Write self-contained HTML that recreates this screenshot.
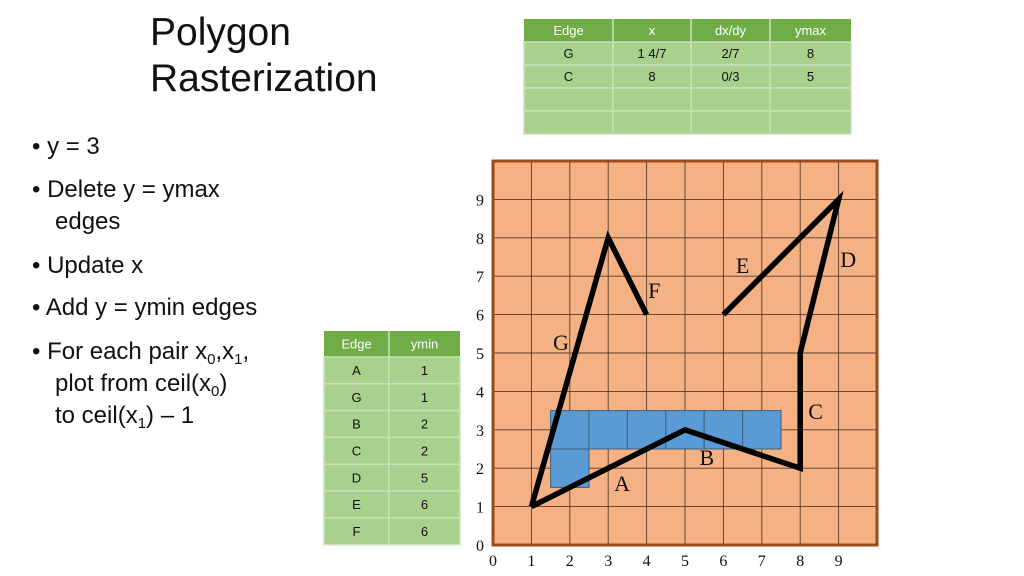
<!DOCTYPE html>
<html><head><meta charset="utf-8"><style>
html,body{margin:0;padding:0;background:#fff}
svg{display:block}
.t{font-family:"Liberation Sans",sans-serif;fill:#111}
.s{font-family:"Liberation Serif",serif;fill:#111}
</style></head><body>
<svg id="root" width="1024" height="576" viewBox="0 0 1024 576">
<g>
<text class="t" x="150" y="45" font-size="39">Polygon</text>
<text class="t" x="150" y="91" font-size="39">Rasterization</text>
</g>
<g font-size="24">
<text class="t" x="32" y="154" font-size="24">• y = 3</text>
<text class="t" x="32" y="197" font-size="24">• Delete y = ymax</text>
<text class="t" x="55" y="229" font-size="24">edges</text>
<text class="t" x="32" y="273" font-size="24">• Update x</text>
<text class="t" x="32" y="315" font-size="24">• Add y = ymin edges</text>
<text class="t" x="32" y="359" font-size="24">• For each pair x<tspan font-size="15" dy="5">0</tspan><tspan dy="-5">,x</tspan><tspan font-size="15" dy="5">1</tspan><tspan dy="-5">,</tspan></text>
<text class="t" x="55" y="391" font-size="24">plot from ceil(x<tspan font-size="15" dy="5">0</tspan><tspan dy="-5">)</tspan></text>
<text class="t" x="55" y="423" font-size="24">to ceil(x<tspan font-size="15" dy="5">1</tspan><tspan dy="-5">) – 1</tspan></text>
</g>
<g id="aet"></g>
<g id="et"></g>
<g id="grid"></g>
</svg>
<script>
const NS='http://www.w3.org/2000/svg';
function mk(tag,attrs,parent,txt){const e=document.createElementNS(NS,tag);for(const k in attrs)e.setAttribute(k,attrs[k]);if(txt!==undefined)e.textContent=txt;parent.appendChild(e);return e;}

// tables
const aetHeader=['Edge','x','dx/dy','ymax'];
const aetRows=[['G','1 4/7','2/7','8'],['C','8','0/3','5'],['','','',''],['','','','']];
const etHeader=['Edge','ymin'];
const etRows=[['A','1'],['G','1'],['B','2'],['C','2'],['D','5'],['E','6'],['F','6']];

function table(g,x0,y0,cols,hh,rh,header,rows,fs){
  const w=cols[cols.length-1]-cols[0];
  const hr=mk('rect',{x:x0,y:y0,width:w,height:hh,fill:'#70ad47'},g);
  
  
  header.forEach((h,i)=>{const t=mk('text',{class:'t',x:(cols[i]+cols[i+1])/2,y:y0+hh/2+fs*0.36,'font-size':fs,'text-anchor':'middle',fill:'#fff',style:'fill:#fff'},g,h);
    });
  rows.forEach((r,j)=>{const y=y0+hh+j*rh;
    const rr=mk('rect',{x:x0,y:y,width:w,height:rh,fill:'#a9d18e',stroke:'#c9e2b8','stroke-width':1.5},g);
    
    r.forEach((c,i)=>{if(c==='')return;const t=mk('text',{class:'t',x:(cols[i]+cols[i+1])/2,y:y+rh/2+fs*0.36,'font-size':fs,'text-anchor':'middle'},g,c);
      });});
  for(let i=1;i<cols.length-1;i++)mk('line',{x1:cols[i],x2:cols[i],y1:y0,y2:y0+hh+rows.length*rh,stroke:'#c9e2b8','stroke-width':1.5},g);
}
table(document.getElementById('aet'),524,19,[524,613,691,770,851],23,23,aetHeader,aetRows,13);
table(document.getElementById('et'),324,331,[324,389,460],26,26.8,etHeader,etRows,13);

// grid chart
const ticks=[0,1,2,3,4,5,6,7,8,9];
const filledCells=[[2,3],[3,3],[4,3],[5,3],[6,3],[7,3],[2,2]];
const polyX=[1,5,8,8,9,6];
const polyY=[1,3,2,5,9,6];
const poly2X=[1,3,4];
const poly2Y=[1,8,6];
const edgeLabels=['A','B','C','D','E','F','G'];
const labelX=[3.36,5.57,8.4,9.25,6.5,4.2,1.77];
const labelY=[1.4,2.08,3.28,7.24,7.08,6.43,5.08];

const gx0=493,gy0=545,u=38.4;
const X=v=>gx0+v*u, Y=v=>gy0-v*u;
const g=document.getElementById('grid');
const bg=mk('rect',{x:X(0),y:Y(10),width:10*u,height:10*u,fill:'#f4b183'},g);

for(let i=1;i<10;i++){
  mk('line',{x1:X(i),x2:X(i),y1:Y(0),y2:Y(10),stroke:'#5a3a28','stroke-width':0.9},g);
  mk('line',{x1:X(0),x2:X(10),y1:Y(i),y2:Y(i),stroke:'#5a3a28','stroke-width':0.9},g);
}
filledCells.forEach(c=>{const r=mk('rect',{x:X(c[0]-0.5),y:Y(c[1]+0.5),width:u,height:u,fill:'#5b9bd5',stroke:'#3a5f80','stroke-width':1},g);
  });
const br=mk('rect',{x:X(0),y:Y(10),width:10*u,height:10*u,fill:'none',stroke:'#9c4a1a','stroke-width':3},g);

ticks.forEach(t=>{
  const a=mk('text',{class:'s',x:X(t),y:Y(0)+21,'font-size':16,'text-anchor':'middle'},g,String(t));
  
  const b=mk('text',{class:'s',x:X(0)-9,y:Y(t)+6,'font-size':16,'text-anchor':'end'},g,String(t));
  
});
function pl(xs,ys,name){const p=mk('polyline',{points:xs.map((x,i)=>X(x)+','+Y(ys[i])).join(' '),fill:'none',stroke:'#000','stroke-width':5.5,'stroke-linejoin':'miter','stroke-miterlimit':10},g);
  }
pl(polyX,polyY,'polygon-edges-a-to-e');
pl(poly2X,poly2Y,'polygon-edges-g-f');
edgeLabels.forEach((l,i)=>{const t=mk('text',{class:'s',x:X(labelX[i]),y:Y(labelY[i]),'font-size':22,'text-anchor':'middle'},g,l);
  });
</script>
</body></html>
